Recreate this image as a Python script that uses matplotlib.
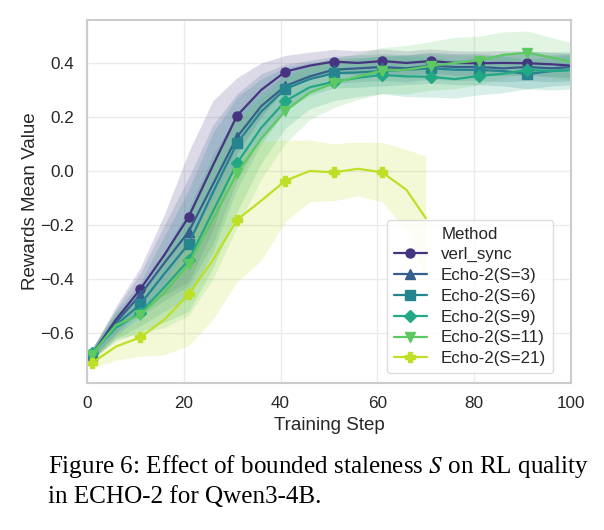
import numpy as np
import matplotlib
matplotlib.use("Agg")
import matplotlib.pyplot as plt
import seaborn as sns

# ---------------- data ----------------
steps = [1, 6, 11, 16, 21, 26, 31, 36, 41, 46, 51, 56, 61, 66, 71, 76, 81, 86, 91, 96, 100]
steps_s21 = [1, 6, 11, 16, 21, 26, 31, 36, 41, 46, 51, 56, 61, 66, 70]

verl_sync = [-0.68, -0.55, -0.438, -0.31, -0.17, 0.02, 0.205, 0.30, 0.368, 0.39, 0.405, 0.40,
             0.407, 0.40, 0.407, 0.40, 0.399, 0.40, 0.399, 0.395, 0.39]
echo_s3 = [-0.68, -0.56, -0.459, -0.34, -0.225, -0.05, 0.126, 0.24, 0.315, 0.35, 0.375, 0.38,
           0.385, 0.38, 0.39, 0.385, 0.385, 0.38, 0.385, 0.38, 0.385]
echo_s6 = [-0.68, -0.57, -0.494, -0.38, -0.27, -0.08, 0.103, 0.22, 0.304, 0.34, 0.362, 0.365,
           0.37, 0.375, 0.38, 0.375, 0.374, 0.37, 0.359, 0.37, 0.374]
echo_s9 = [-0.675, -0.58, -0.525, -0.43, -0.33, -0.15, 0.029, 0.16, 0.259, 0.31, 0.33, 0.345,
           0.356, 0.35, 0.349, 0.34, 0.352, 0.36, 0.374, 0.37, 0.374]
echo_s11 = [-0.68, -0.57, -0.533, -0.45, -0.345, -0.18, -0.008, 0.12, 0.223, 0.29, 0.325, 0.35,
            0.372, 0.375, 0.389, 0.40, 0.409, 0.43, 0.438, 0.42, 0.405]
echo_s21 = [-0.711, -0.65, -0.616, -0.55, -0.457, -0.33, -0.181, -0.11, -0.036, 0.0, -0.005, 0.008,
            -0.005, -0.07, -0.175]

# half-widths of the shaded bands
std_verl = [0.02, 0.05, 0.08, 0.15, 0.24, 0.24, 0.14, 0.10, 0.06, 0.05, 0.045, 0.045,
            0.045, 0.045, 0.045, 0.045, 0.045, 0.045, 0.045, 0.045, 0.045]
std_s3 = [0.02, 0.05, 0.08, 0.14, 0.20, 0.22, 0.16, 0.12, 0.08, 0.06, 0.05, 0.05,
          0.05, 0.05, 0.05, 0.05, 0.05, 0.05, 0.05, 0.05, 0.05]
std_s6 = [0.02, 0.05, 0.08, 0.14, 0.20, 0.22, 0.17, 0.12, 0.08, 0.06, 0.055, 0.055,
          0.055, 0.055, 0.055, 0.055, 0.055, 0.055, 0.055, 0.055, 0.055]
std_s9 = [0.02, 0.05, 0.07, 0.13, 0.19, 0.21, 0.18, 0.13, 0.10, 0.08, 0.07, 0.07,
          0.07, 0.075, 0.075, 0.07, 0.07, 0.07, 0.07, 0.07, 0.07]
std_s11 = [0.02, 0.05, 0.07, 0.13, 0.19, 0.22, 0.20, 0.15, 0.12, 0.10, 0.09, 0.085,
           0.085, 0.09, 0.09, 0.095, 0.09, 0.085, 0.08, 0.075, 0.07]
std_s21 = [0.02, 0.05, 0.07, 0.13, 0.19, 0.22, 0.23, 0.22, 0.15, 0.115, 0.105, 0.10,
           0.11, 0.15, 0.23]

labels = ["verl_sync", "Echo-2(S=3)", "Echo-2(S=6)", "Echo-2(S=9)", "Echo-2(S=11)", "Echo-2(S=21)"]
markers = ["o", "^", "s", "D", "v", "P"]

x_label = "Training Step"
y_label = "Rewards Mean Value"
legend_title = "Method"
caption1 = "Figure 6: Effect of bounded staleness $S$ on RL quality"
caption2 = "in ECHO-2 for Qwen3-4B."

# ---------------- plot ----------------
sns.set_theme(style="whitegrid")
plt.rcParams["font.family"] = ["Liberation Sans", "DejaVu Sans"]
plt.rcParams["mathtext.fontset"] = "stix"

fig = plt.figure(figsize=(6.04, 5.30), dpi=100)
ax = fig.add_axes([87 / 604, 1 - 383 / 530, (571 - 87) / 604, (383 - 20) / 530])

cmap = plt.get_cmap("viridis")
colors = [cmap(v) for v in np.linspace(0.15, 0.9, 6)]
series = [
    (steps, verl_sync, std_verl),
    (steps, echo_s3, std_s3),
    (steps, echo_s6, std_s6),
    (steps, echo_s9, std_s9),
    (steps, echo_s11, std_s11),
    (steps_s21, echo_s21, std_s21),
]

for (xs, ys, sd), lab, mk, c in zip(series, labels, markers, colors):
    xs = np.asarray(xs)
    ys = np.asarray(ys)
    sd = np.asarray(sd)
    ax.fill_between(xs, ys - sd, ys + sd, color=c, alpha=0.18, linewidth=0)
    mk_idx = [i for i, s in enumerate(xs) if s % 10 == 1]
    ax.plot(xs, ys, color=c, marker=mk, markevery=mk_idx, markersize=6.5,
            linewidth=1.6, label=lab)

ax.set_xlim(0, 100)
ax.set_ylim(-0.785, 0.559)
ax.set_yticks([-0.6, -0.4, -0.2, 0.0, 0.2, 0.4])
ax.set_xticks([0, 20, 40, 60, 80, 100])
ax.tick_params(labelsize=12.3, colors="#262626")
ax.grid(True, color="#ebebeb", linewidth=1.0)
ax.set_xlabel(x_label, fontsize=13.5, color="#262626", labelpad=4)
ax.set_ylabel(y_label, fontsize=13.5, color="#262626", labelpad=1)
for sp in ax.spines.values():
    sp.set_color("#cccccc")
    sp.set_linewidth(1.5)

leg = ax.legend(title=legend_title, loc="lower right", fontsize=12.2, title_fontsize=12.2,
                frameon=True, borderaxespad=0.0, labelspacing=0.34,
                bbox_to_anchor=((553 - 87) / 484, (383 - 373) / 363))
leg.get_frame().set_edgecolor("#d5d5d5")

fig.text(48 / 604, 1 - 473 / 530, caption1, family="Liberation Serif", fontsize=18.1,
         va="baseline", ha="left", color="black")
fig.text(48 / 604, 1 - 503 / 530, caption2, family="Liberation Serif", fontsize=18.1,
         va="baseline", ha="left", color="black")

fig.savefig("out.png", dpi=100)
